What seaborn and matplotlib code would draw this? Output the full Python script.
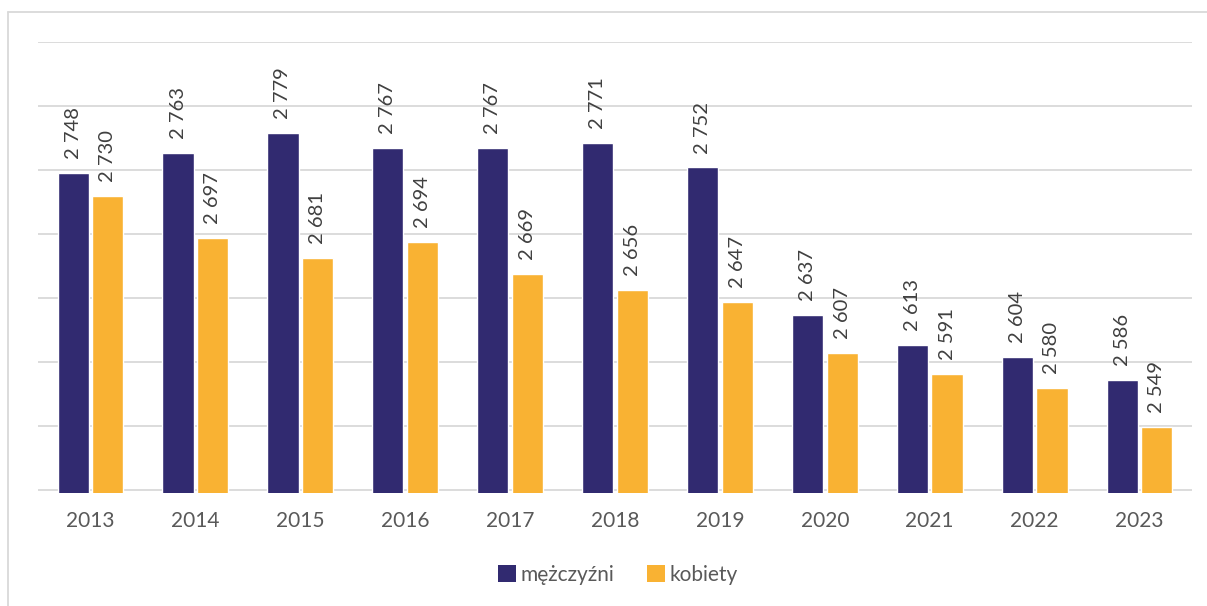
import numpy as np
import pandas as pd
import matplotlib.pyplot as plt
from matplotlib.lines import Line2D
from matplotlib.patches import Patch
import seaborn as sns

years = ['2013', '2014', '2015', '2016', '2017', '2018', '2019', '2020', '2021', '2022', '2023']
men = [2748, 2763, 2779, 2767, 2767, 2771, 2752, 2637, 2613, 2604, 2586]
women = [2730, 2697, 2681, 2694, 2669, 2656, 2647, 2607, 2591, 2580, 2549]
series = ['mężczyźni', 'kobiety']
colors = ['#312A70', '#F9B233']

df = pd.DataFrame({
    'rok': years * 2,
    'wartosc': men + women,
    'plec': [series[0]] * len(years) + [series[1]] * len(years),
})

sns.set_style('white')
plt.rcParams['font.family'] = ['Lato', 'DejaVu Sans']

fig = plt.figure(figsize=(12.07, 6.06), dpi=100)
ax = fig.add_axes([38 / 1207, 1 - 492.56 / 606, (1192 - 38) / 1207, (492.56 - 42) / 606])

sns.barplot(data=df, x='rok', y='wartosc', hue='plec', palette=colors,
            width=0.66, gap=0.1, ax=ax, legend=False, saturation=1)

ax.set_ylim(2498, 2850)
ax.set_xlim(-0.5, len(years) - 0.5)
ax.set_yticks(np.arange(2500, 2851, 50))
ax.set_yticklabels([])
ax.yaxis.grid(True, color='#D9D9D9', linewidth=1.3)
ax.set_axisbelow(True)
for s in ax.spines.values():
    s.set_visible(False)
ax.tick_params(axis='x', length=0, labelsize=15, labelcolor='#595959', pad=13)
ax.tick_params(axis='y', length=0)
ax.set_xlabel('')
ax.set_ylabel('')

# value labels above bars
for cont in ax.containers:
    for bar in cont:
        v = bar.get_height()
        ax.annotate(f'{int(v):,}'.replace(',', ' '),
                    (bar.get_x() + bar.get_width() / 2, v),
                    xytext=(0, 10), textcoords='offset points',
                    rotation=90, ha='center', va='bottom',
                    fontsize=14.5, color='#404040')

handles = [Patch(facecolor=c, edgecolor='none') for c in colors]
ax.legend(handles, series, loc='center', bbox_to_anchor=(0.512, 1 - 575 / 606),
          bbox_transform=fig.transFigure, ncol=2, frameon=False, fontsize=15,
          handlelength=0.85, handleheight=0.85, handletextpad=0.2, columnspacing=1.6,
          labelcolor='#595959')

# outer chart border (left and top)
fig.add_artist(Line2D([8 / 1207, 8 / 1207], [0, 1 - 12 / 606], transform=fig.transFigure,
                      color='#D9D9D9', linewidth=1.3))
fig.add_artist(Line2D([8 / 1207, 1], [1 - 12 / 606, 1 - 12 / 606], transform=fig.transFigure,
                      color='#D9D9D9', linewidth=1.3))

fig.savefig('out.png', dpi=100)
